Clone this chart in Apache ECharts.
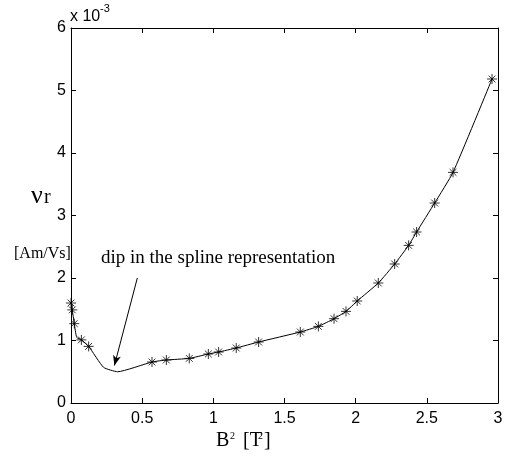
<!DOCTYPE html>
<html><head><meta charset="utf-8">
<script src="https://cdn.jsdelivr.net/npm/echarts@6/dist/echarts.min.js"></script>
<style>html,body{margin:0;padding:0;background:#fff}#c{width:508px;height:459px}</style>
</head><body><div id="c"></div>
<script>
// measured points (B^2 [T^2], nu_r in 1e-3 Am/Vs)
const markerB2 = [0, 0.009, 0.023, 0.073, 0.124, 0.569, 0.670, 0.831, 0.965, 1.037, 1.161, 1.318, 1.611, 1.738, 1.848, 1.932, 2.011, 2.159, 2.274, 2.372, 2.428, 2.555, 2.684, 2.958];
const markerNu = [1.60, 1.49, 1.27, 1.01, 0.906, 0.656, 0.688, 0.714, 0.784, 0.816, 0.88, 0.976, 1.136, 1.226, 1.349, 1.466, 1.632, 1.92, 2.224, 2.522, 2.736, 3.20, 3.69, 5.184];
// spline curve points (includes the dip)
const splineB2 = [0, 0.009, 0.023, 0.04, 0.073, 0.124, 0.229, 0.328, 0.569, 0.670, 0.831, 0.965, 1.037, 1.161, 1.318, 1.611, 1.738, 1.848, 1.932, 2.011, 2.159, 2.274, 2.372, 2.428, 2.555, 2.684, 2.958];
const splineNu = [1.60, 1.49, 1.27, 1.05, 1.01, 0.906, 0.57, 0.50, 0.656, 0.688, 0.714, 0.784, 0.816, 0.88, 0.976, 1.136, 1.226, 1.349, 1.466, 1.632, 1.92, 2.224, 2.522, 2.736, 3.20, 3.69, 5.184];
const arrowFrom = [0.466, 2.0];
const arrowTo = [0.305, 0.60];

const chart = echarts.init(document.getElementById('c'));
const tickFont = {fontFamily:'Liberation Sans, Arial', fontSize:16, color:'#000'};
const axisLineS = {show:true, onZero:false, lineStyle:{color:'#000', width:1}};
const tickS = {inside:true, length:5, lineStyle:{color:'#000'}};
const star = 'path://M0,5L10,5M5,0L5,10M1.6,1.6L8.4,8.4M8.4,1.6L1.6,8.4';
const serif = 'Liberation Serif, Times New Roman';
chart.setOption({
  animation:false,
  grid:{left:71, top:28, right:10, bottom:56, show:false},
  xAxis:[
    {type:'value', min:0, max:3, interval:0.5, position:'bottom', axisLine:axisLineS,
     axisTick:tickS, splitLine:{show:false},
     axisLabel:Object.assign({margin:8, formatter:v=>String(v)}, tickFont)},
    {type:'value', min:0, max:3, interval:0.5, position:'top', axisLine:axisLineS,
     axisTick:tickS, splitLine:{show:false}, axisLabel:{show:false}}
  ],
  yAxis:[
    {type:'value', min:0, max:6, interval:1, position:'left', axisLine:axisLineS,
     axisTick:tickS, splitLine:{show:false},
     axisLabel:Object.assign({margin:5}, tickFont)},
    {type:'value', min:0, max:6, interval:1, position:'right', axisLine:axisLineS,
     axisTick:tickS, splitLine:{show:false}, axisLabel:{show:false}}
  ],
  series:[
    {type:'line', data:splineB2.map((x,i)=>[x,splineNu[i]]), smooth:0.15, symbol:'none',
     lineStyle:{color:'#000', width:1},
     markLine:{silent:true, symbol:['none','arrow'], symbolSize:[6,10], label:{show:false},
       lineStyle:{color:'#000', width:1, type:'solid'},
       data:[[{coord:arrowFrom},{coord:arrowTo}]]}},
    {type:'scatter', data:markerB2.map((x,i)=>[x,markerNu[i]]), symbol:star, symbolSize:10,
     itemStyle:{color:'none', borderColor:'#000', borderWidth:1}}
  ],
  graphic:[
    {type:'text', left:70, top:9, style:{text:'x 10', font:'16px Liberation Sans, Arial', fill:'#000'}},
    {type:'text', left:100, top:3, style:{text:'-3', font:'11px Liberation Sans, Arial', fill:'#000'}},
    {type:'text', left:31, top:183, style:{text:'ν', font:'26px ' + serif, fill:'#000'}},
    {type:'text', left:44, top:188, style:{text:'r', font:'20px ' + serif, fill:'#000'}},
    {type:'text', left:14, top:246, style:{text:'[Am/Vs]', font:'16px ' + serif, fill:'#000'}},
    {type:'text', left:101, top:249, style:{text:'dip in the spline representation', font:'19px ' + serif, fill:'#000'}},
    {type:'text', left:216, top:431, style:{text:'B', font:'20px ' + serif, fill:'#000'}},
    {type:'text', left:230, top:431, style:{text:'2', font:'10px ' + serif, fill:'#000'}},
    {type:'text', left:243, top:431, style:{text:'[T', font:'20px ' + serif, fill:'#000'}},
    {type:'text', left:258, top:431, style:{text:'2', font:'10px ' + serif, fill:'#000'}},
    {type:'text', left:264, top:431, style:{text:']', font:'20px ' + serif, fill:'#000'}}
  ]
});
</script></body></html>
